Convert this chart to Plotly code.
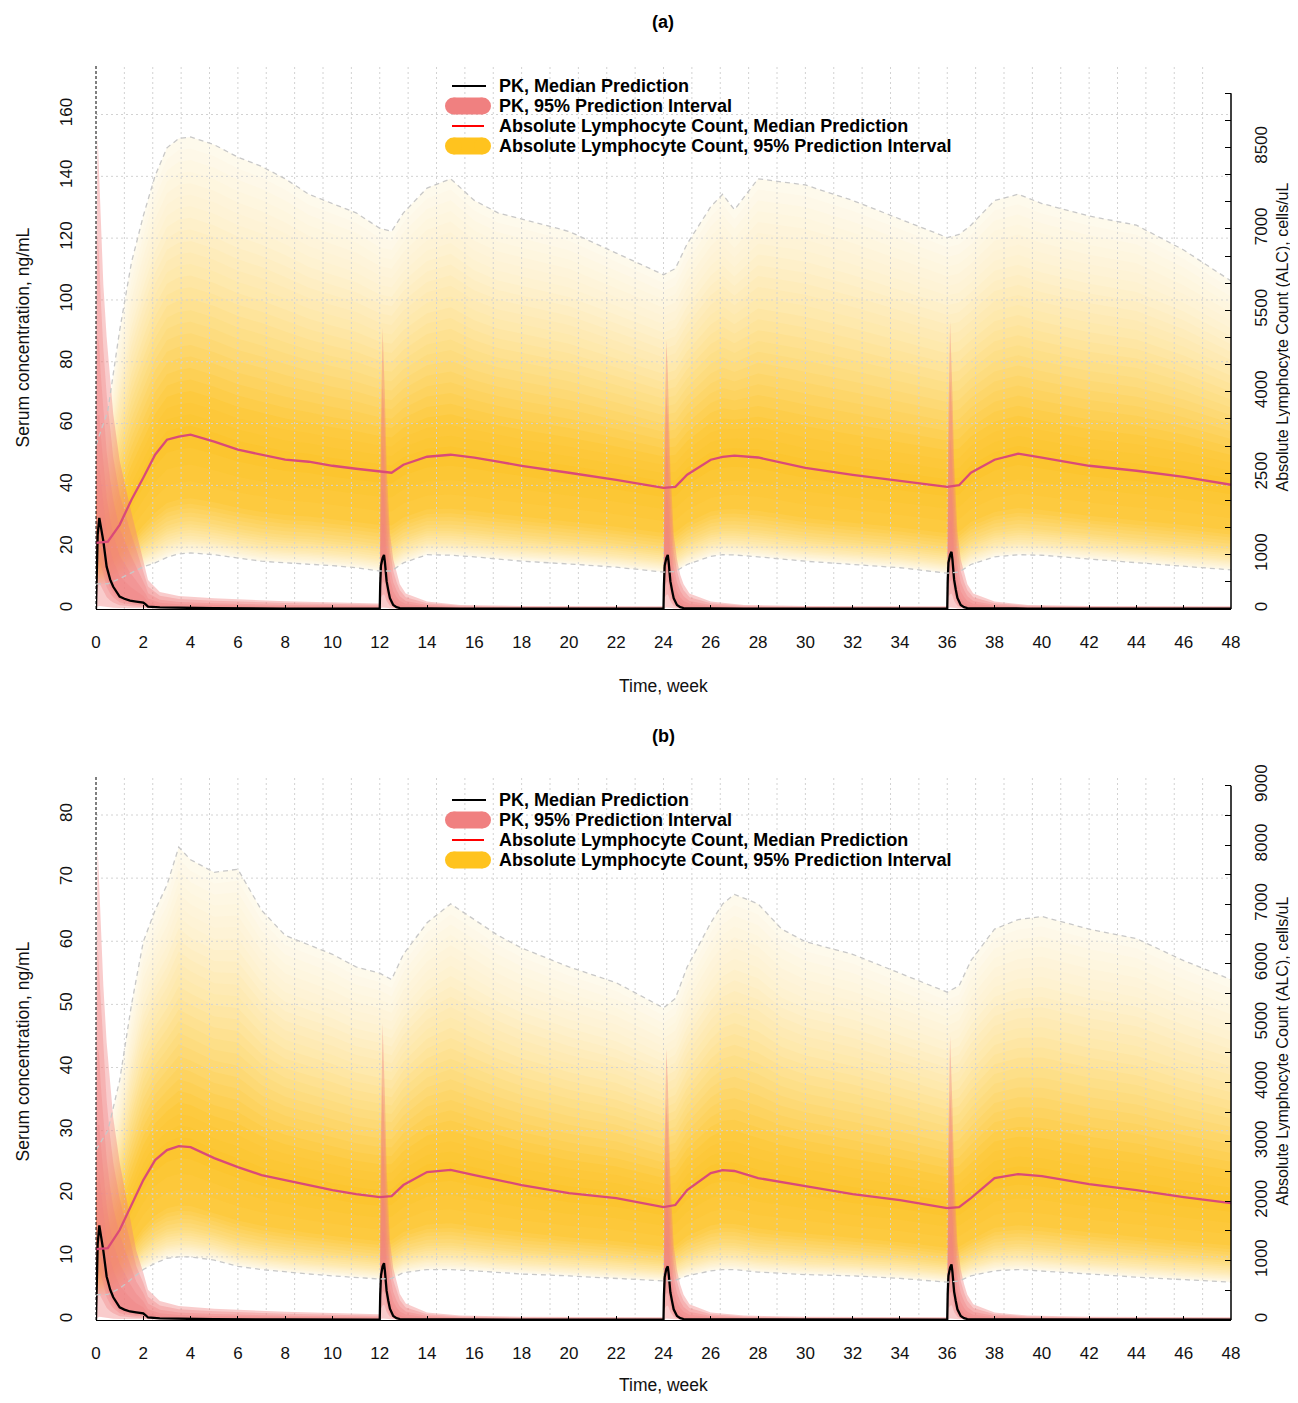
import numpy as np
import plotly.graph_objects as go

W, H = 1298, 1403
M = 8                     # default body margin of the html page
FW, FH = W - 2 * M, H - 2 * M

# ---------------- data ----------------
# ALC (cells/uL) time grid, weeks
alc_t = [0, 0.5, 1, 1.5, 2, 2.5, 3, 3.5, 4, 5, 6, 7, 8, 9, 10, 11, 12, 12.5, 13, 14, 15, 16, 17, 18,
         20, 22, 24, 24.5, 25, 26, 26.5, 27, 28, 29, 30, 32, 34, 36, 36.5, 37, 38, 39, 40, 42, 44, 46, 48]

alc_med_a = [1218, 1240, 1550, 2011, 2417, 2841, 3118, 3173, 3210, 3081, 2934, 2841, 2749, 2712, 2638, 2583, 2528,
             2510, 2657, 2804, 2841, 2786, 2712, 2638, 2509, 2380, 2232, 2250, 2472, 2749, 2800, 2823, 2790, 2700,
             2601, 2472, 2362, 2251, 2280, 2509, 2749, 2860, 2786, 2638, 2546, 2435, 2288]
alc_hi_a = [3021, 3648, 5130, 6384, 7239, 7980, 8493, 8664, 8693, 8550, 8322, 8151, 7923, 7638, 7467, 7296, 7011,
            6954, 7296, 7752, 7923, 7524, 7296, 7182, 6954, 6555, 6156, 6270, 6726, 7410, 7638, 7353, 7923, 7866,
            7809, 7524, 7182, 6840, 6897, 7068, 7524, 7638, 7467, 7239, 7068, 6612, 6042]
alc_lo_a = [461, 465, 560, 664, 775, 850, 950, 1015, 1033, 1000, 941, 880, 850, 830, 800, 760, 700,
            700, 850, 1000, 990, 960, 920, 880, 830, 770, 680, 690, 820, 970, 1000, 995, 960, 920,
            880, 820, 760, 660, 680, 820, 960, 1000, 990, 920, 850, 780, 720]

alc_med_b = [1195, 1210, 1515, 1936, 2357, 2694, 2862, 2929, 2912, 2727, 2576, 2441, 2357, 2270, 2189, 2120, 2071,
             2088, 2273, 2492, 2530, 2441, 2357, 2273, 2138, 2054, 1902, 1936, 2189, 2475, 2525, 2510, 2391, 2320,
             2256, 2121, 2020, 1886, 1902, 2054, 2391, 2458, 2424, 2290, 2189, 2071, 1970]
alc_hi_b = [2867, 3186, 4036, 5310, 6372, 6903, 7328, 7965, 7753, 7540, 7593, 6903, 6478, 6319, 6160, 5947, 5841,
            5735, 6160, 6691, 7009, 6744, 6478, 6266, 5947, 5682, 5257, 5416, 5947, 6691, 7009, 7169, 7009, 6584,
            6372, 6160, 5841, 5522, 5629, 6053, 6584, 6744, 6797, 6584, 6425, 6053, 5735]
alc_lo_b = [425, 430, 531, 690, 850, 956, 1040, 1062, 1062, 1009, 903, 850, 807, 775, 743, 722, 690,
            700, 797, 850, 850, 828, 797, 775, 743, 700, 658, 669, 743, 828, 850, 850, 807, 786,
            765, 743, 700, 637, 658, 743, 828, 850, 828, 775, 722, 680, 637]

# PK (ng/mL) time grid, weeks (4 doses)
pk_t_d1 = [0, 0.02, 0.07, 0.14, 0.2, 0.31, 0.45, 0.6, 0.73, 1.0, 1.2, 1.44, 1.7, 2.0, 2.1, 2.2, 2.7, 3.5, 5, 8, 11.98]
pk_t_d2 = [12, 12.02, 12.05, 12.12, 12.18, 12.22, 12.29, 12.36, 12.43, 12.57, 12.71, 12.85, 13.1, 14, 15.4, 18, 23.98]
pk_t_d3 = [24, 24.02, 24.05, 24.12, 24.18, 24.22, 24.29, 24.36, 24.43, 24.57, 24.71, 24.85, 25.1, 26, 27.4, 30, 35.98]
pk_t_d4 = [36, 36.02, 36.05, 36.12, 36.18, 36.22, 36.29, 36.36, 36.43, 36.57, 36.71, 36.85, 37.1, 38, 39.4, 42, 48]

pk_med_a_d1 = [0, 12, 24, 29.5, 27, 22, 13.7, 9.5, 7.2, 4.0, 3.3, 2.7, 2.4, 2.1, 1.5, 0.8, 0.5, 0.35, 0.25, 0.15, 0.1]
pk_med_a_d2 = [0.1, 8, 14, 16.5, 17.5, 15, 9, 6.1, 3.5, 1.3, 0.6, 0.3, 0.25, 0.2, 0.15, 0.1, 0.08]
pk_med_a_d3 = [0.08, 8, 14, 16.5, 17.5, 15, 9, 6.1, 3.5, 1.3, 0.6, 0.3, 0.25, 0.2, 0.15, 0.1, 0.08]
pk_med_a_d4 = [0.08, 9, 15, 17.5, 18.5, 16, 9.5, 6.3, 3.6, 1.3, 0.6, 0.3, 0.25, 0.2, 0.15, 0.1, 0.08]
pk_hi_a_d1 = [0, 120, 153, 140, 125, 105, 88, 74, 63, 48, 41, 33, 25, 16, 13, 9.4, 5.5, 4.2, 3.5, 2.5, 1.8]
pk_hi_a_d2 = [1.8, 30, 60, 91, 80, 68, 46, 36, 24.5, 16, 11.5, 8, 5, 2.4, 1.3, 1.0, 0.9]
pk_hi_a_d3 = [0.9, 30, 58, 87, 77, 65, 45, 35, 24, 16, 11, 8, 5, 2.4, 1.3, 1.0, 0.9]
pk_hi_a_d4 = [0.9, 32, 62, 93, 82, 69, 47, 36, 25, 16, 11.5, 8, 5, 2.4, 1.3, 1.0, 0.9]
pk_lo_a_d1 = [0, 0.5, 0.8, 1, 1, 0.8, 0.6, 0.5, 0.4, 0.3, 0.3, 0.25, 0.2, 0.2, 0.15, 0.1, 0.1, 0.05, 0.05, 0.03, 0.02]
pk_lo_a_dn = [0.02, 0.1, 0.3, 0.5, 0.5, 0.5, 0.4, 0.3, 0.2, 0.1, 0.05, 0.03, 0.02, 0.02, 0.02, 0.02, 0.02]

pk_med_b_d1 = [0, 6, 12, 15, 13.7, 11, 6.9, 4.8, 3.6, 2.0, 1.65, 1.35, 1.2, 1.05, 0.75, 0.4, 0.25, 0.18, 0.12, 0.08, 0.05]
pk_med_b_d2 = [0.05, 4, 7, 8.5, 9, 7.7, 4.6, 3.1, 1.8, 0.65, 0.3, 0.15, 0.12, 0.1, 0.08, 0.05, 0.04]
pk_med_b_d3 = [0.04, 4, 6.8, 8.1, 8.5, 7.3, 4.4, 3.0, 1.7, 0.65, 0.3, 0.15, 0.12, 0.1, 0.08, 0.05, 0.04]
pk_med_b_d4 = [0.04, 4.2, 7, 8.3, 8.8, 7.6, 4.5, 3.0, 1.7, 0.65, 0.3, 0.15, 0.12, 0.1, 0.08, 0.05, 0.04]
pk_hi_b_d1 = [0, 55, 75, 68, 61, 53, 44, 37, 32, 25, 21, 16, 11, 7.5, 6, 4.8, 3, 2.2, 1.8, 1.3, 0.9]
pk_hi_b_d2 = [0.9, 15, 30, 47, 41, 35, 24, 18.5, 12.5, 8.2, 5.9, 4.1, 2.6, 1.2, 0.7, 0.5, 0.45]
pk_hi_b_d3 = [0.45, 14, 28, 43, 38, 32, 22, 17, 11.8, 7.9, 5.6, 4, 2.5, 1.2, 0.7, 0.5, 0.45]
pk_hi_b_d4 = [0.45, 15, 29, 45, 39.5, 33.5, 23, 18, 12.2, 8, 5.7, 4, 2.5, 1.2, 0.7, 0.5, 0.45]
pk_lo_b_d1 = [0, 0.25, 0.4, 0.5, 0.5, 0.4, 0.3, 0.25, 0.2, 0.15, 0.15, 0.12, 0.1, 0.1, 0.08, 0.05, 0.05, 0.03, 0.03, 0.02, 0.01]
pk_lo_b_dn = [0.01, 0.05, 0.15, 0.25, 0.25, 0.25, 0.2, 0.15, 0.1, 0.05, 0.03, 0.02, 0.01, 0.01, 0.01, 0.01, 0.01]

x_ticks = list(range(0, 49, 2))
pk_ticks_a = [0, 20, 40, 60, 80, 100, 120, 140, 160]
pk_ticks_b = [0, 10, 20, 30, 40, 50, 60, 70, 80]
alc_ticks_a = list(range(0, 9501, 500))
alc_labels_a = ["0", "1000", "2500", "4000", "5500", "7000", "8500"]
alc_ticks_b = list(range(0, 9001, 500))
alc_labels_b = ["0", "1000", "2000", "3000", "4000", "5000", "6000", "7000", "8000", "9000"]

legend_labels = ["PK, Median Prediction", "PK, 95% Prediction Interval",
                 "Absolute Lymphocyte Count, Median Prediction",
                 "Absolute Lymphocyte Count, 95% Prediction Interval"]

pk_t = pk_t_d1 + pk_t_d2 + pk_t_d3 + pk_t_d4
pk_med_a = pk_med_a_d1 + pk_med_a_d2 + pk_med_a_d3 + pk_med_a_d4
pk_hi_a = pk_hi_a_d1 + pk_hi_a_d2 + pk_hi_a_d3 + pk_hi_a_d4
pk_lo_a = pk_lo_a_d1 + pk_lo_a_dn * 3
pk_med_b = pk_med_b_d1 + pk_med_b_d2 + pk_med_b_d3 + pk_med_b_d4
pk_hi_b = pk_hi_b_d1 + pk_hi_b_d2 + pk_hi_b_d3 + pk_hi_b_d4
pk_lo_b = pk_lo_b_d1 + pk_lo_b_dn * 3

# ---------------- style ----------------
FONT = "Liberation Sans, Arial, Helvetica, sans-serif"
# colour ramp of the ALC interval shading: u = 0 at median, 1 at 2.5/97.5 % bound
U_STOPS = [0.0, 0.15, 0.35, 0.56, 0.77, 0.93, 1.0]
L_STOPS = [0.0, 0.55, 0.74, 0.87, 0.95, 0.985, 1.0]
C_STOPS = ["#FCC42B", "#FDCA40", "#FDDA78", "#FEE8AA", "#FEF2D2", "#FEF7E4", "#FEFAEC"]
N_LEVELS = 26
PK_LEVELS = [(1.0, 0.40), (0.75, 0.35), (0.5, 0.35), (0.3, 0.32), (0.15, 0.30)]


def hex2rgb(h):
    return np.array([int(h[i:i + 2], 16) for i in (1, 3, 5)], float)


C_RGB = np.array([hex2rgb(c) for c in C_STOPS])


def ramp(u):
    rgb = [np.interp(u, U_STOPS, C_RGB[:, j]) for j in range(3)]
    return "rgb(%d,%d,%d)" % tuple(int(round(v)) for v in rgb)


def px2x(p):
    return (p - M) / FW


def px2y(p):
    return 1 - (p - M) / FH


XDOM = [px2x(96), px2x(1231)]
PANELS = [
    dict(ydom=[px2y(609), px2y(66)], pk_max=175.7, alc_max=10000, alc_top=9500,
         pk_ticks=pk_ticks_a, alc_ticks=alc_ticks_a, alc_labels=alc_labels_a,
         med=alc_med_a, hi=alc_hi_a, lo=alc_lo_a, pmed=pk_med_a, phi=pk_hi_a, plo=pk_lo_a,
         ya="y", yp="y2", yt="y5", ylab="(a)", off=0),
    dict(ydom=[px2y(1320), px2y(776)], pk_max=86.18, alc_max=9163, alc_top=9000,
         pk_ticks=pk_ticks_b, alc_ticks=alc_ticks_b, alc_labels=alc_labels_b,
         med=alc_med_b, hi=alc_hi_b, lo=alc_lo_b, pmed=pk_med_b, phi=pk_hi_b, plo=pk_lo_b,
         ya="y3", yp="y4", yt="y6", ylab="(b)", off=714),
]

fig = go.Figure()
shapes, annotations = [], []

for i, P in enumerate(PANELS):
    xa = "x" if i == 0 else "x2"
    t = np.array(alc_t, float)
    med, hi, lo = (np.array(P[k], float) for k in ("med", "hi", "lo"))
    # ALC gradient interval (right axis)
    for u in np.linspace(1.0, 0.03, N_LEVELS):
        fl = np.interp(u, U_STOPS, L_STOPS)
        up = med + u * (hi - med)
        dn = med - fl * (med - lo)
        fig.add_trace(go.Scatter(x=np.concatenate([t, t[::-1]]), y=np.concatenate([up, dn[::-1]]),
                                 fill="toself", fillcolor=ramp(u), line=dict(width=0), mode="lines",
                                 xaxis=xa, yaxis=P["ya"], hoverinfo="skip", showlegend=False))

    # grid (PK axis layer, above the ALC shading)
    gx, gy = [], []
    for k in range(1, 40):
        gx += [k * 1.2, k * 1.2, None]
        gy += [0, P["pk_max"], None]
    for v in P["pk_ticks"][1:]:
        gx += [0, 48, None]
        gy += [v, v, None]
    fig.add_trace(go.Scatter(x=gx, y=gy, mode="lines", xaxis=xa, yaxis=P["yp"],
                             line=dict(color="#D2D2D2", width=1, dash="2px,3px"),
                             hoverinfo="skip", showlegend=False))
    # PK interval (left axis)
    pt = np.array(pk_t, float)
    pm, ph, pl = (np.array(P[k], float) for k in ("pmed", "phi", "plo"))
    for f, a in PK_LEVELS:
        up = pm + f * (ph - pm)
        dn = pm - f * (pm - pl)
        fig.add_trace(go.Scatter(x=np.concatenate([pt, pt[::-1]]), y=np.concatenate([up, dn[::-1]]),
                                 fill="toself", fillcolor="rgba(240,128,128,%.2f)" % a,
                                 line=dict(width=0), mode="lines",
                                 xaxis=xa, yaxis=P["yp"], hoverinfo="skip", showlegend=False))

    # ALC bounds and median on a top overlay copy of the ALC axis
    for arr in (hi, lo):
        fig.add_trace(go.Scatter(x=t, y=arr, mode="lines", xaxis=xa, yaxis=P["yt"],
                                 line=dict(color="#C8C8C8", width=1.3, dash="5px,4px"),
                                 hoverinfo="skip", showlegend=False))
    fig.add_trace(go.Scatter(x=t, y=med, mode="lines", xaxis=xa, yaxis=P["yt"],
                             line=dict(color="#DA4A78", width=2.3), showlegend=False))
    # PK median
    fig.add_trace(go.Scatter(x=pt, y=pm, mode="lines", xaxis=xa, yaxis=P["yp"],
                             line=dict(color="black", width=2.3), showlegend=False))

    # axes
    sfx = "" if i == 0 else "2"
    ya_name = "yaxis" if i == 0 else "yaxis3"
    yp_name = "yaxis2" if i == 0 else "yaxis4"
    yt_name = "yaxis5" if i == 0 else "yaxis6"
    fig.update_layout(**{
        "xaxis" + sfx: dict(domain=XDOM, range=[0, 48], anchor=P["ya"], tickvals=x_ticks,
                            ticks="inside", ticklen=4, tickcolor="black", showline=True,
                            linecolor="black", linewidth=1, showgrid=False, zeroline=False,
                            tickfont=dict(family=FONT, size=17, color="#111"),
                            ticklabelstandoff=18, automargin=False),
        ya_name: dict(domain=P["ydom"], range=[0, P["alc_max"]], side="right", anchor=xa,
                      tickvals=P["alc_ticks"],
                      ticktext=[str(v) if str(v) in P["alc_labels"] else "" for v in P["alc_ticks"]],
                      ticks="inside", ticklen=6, tickcolor="black", tickangle=-90,
                      showline=False, showgrid=False, zeroline=False,
                      tickfont=dict(family=FONT, size=17, color="#111"),
                      ticklabelstandoff=18, automargin=False),
        yp_name: dict(range=[0, P["pk_max"]], overlaying=P["ya"], side="left", anchor=xa,
                      tickvals=P["pk_ticks"], ticks="", tickangle=-90, showline=False,
                      showgrid=False, zeroline=False,
                      tickfont=dict(family=FONT, size=17, color="#111"),
                      ticklabelstandoff=20, automargin=False),
        yt_name: dict(range=[0, P["alc_max"]], overlaying=P["ya"], side="right", anchor=xa,
                      visible=False, showgrid=False, zeroline=False, automargin=False),
    })
    # right axis line up to last tick, dashed left spine
    shapes.append(dict(type="line", xref=xa + " domain", yref=P["ya"], x0=1, x1=1,
                       y0=0, y1=P["alc_top"], line=dict(color="black", width=1.5)))
    shapes.append(dict(type="line", xref=xa + " domain", yref=P["yp"] + " domain", x0=0, x1=0,
                       y0=0, y1=1, line=dict(color="black", width=1, dash="3px,2px")))

    off = P["off"]

    def ann(x, y, text, size, angle=0, xanchor="center", bold=False):
        annotations.append(dict(x=px2x(x), y=px2y(y), xref="paper", yref="paper", showarrow=False,
                                xanchor=xanchor, yanchor="middle", textangle=angle,
                                text=("<b>%s</b>" % text) if bold else text,
                                font=dict(family=FONT, size=size, color="black" if bold else "#111")))

    ann(663, 22 + off, P["ylab"], 18, bold=True)
    ann(663, min(686 + off, 1385), "Time, week", 17.5)
    cyp = (66 + 609) / 2 + off
    ann(22, cyp, "Serum concentration, ng/mL", 17.5, angle=-90)
    ann(1282, cyp, "Absolute Lymphocyte Count (ALC), cells/uL", 16, angle=-90)

    # manual legend
    rows = [86 + off, 106 + off, 126 + off, 146 + off]
    for r, lab in zip(rows, legend_labels):
        ann(497, r, lab, 18, xanchor="left", bold=True)
    shapes.append(dict(type="line", xref="paper", yref="paper", x0=px2x(452), x1=px2x(486),
                       y0=px2y(rows[0]), y1=px2y(rows[0]), line=dict(color="black", width=2)))
    shapes.append(dict(type="line", xref="paper", yref="paper", x0=px2x(452), x1=px2x(484),
                       y0=px2y(rows[2]), y1=px2y(rows[2]), line=dict(color="#FF0000", width=2)))
    for r, col in ((rows[1], "#F08080"), (rows[3], "#FFC31E")):
        rad = 8.5
        shapes.append(dict(type="rect", xref="paper", yref="paper", x0=px2x(445 + rad), x1=px2x(491 - rad),
                           y0=px2y(r + rad), y1=px2y(r - rad), fillcolor=col, line=dict(width=0)))
        for cx in (445 + rad, 491 - rad):
            shapes.append(dict(type="circle", xref="paper", yref="paper", x0=px2x(cx - rad), x1=px2x(cx + rad),
                               y0=px2y(r + rad), y1=px2y(r - rad), fillcolor=col, line=dict(width=0)))

fig.update_layout(width=FW, height=FH, margin=dict(l=0, r=0, t=0, b=0), template="none",
                  plot_bgcolor="white", paper_bgcolor="white", showlegend=False,
                  shapes=shapes, annotations=annotations)
fig.write_html("out.html")
